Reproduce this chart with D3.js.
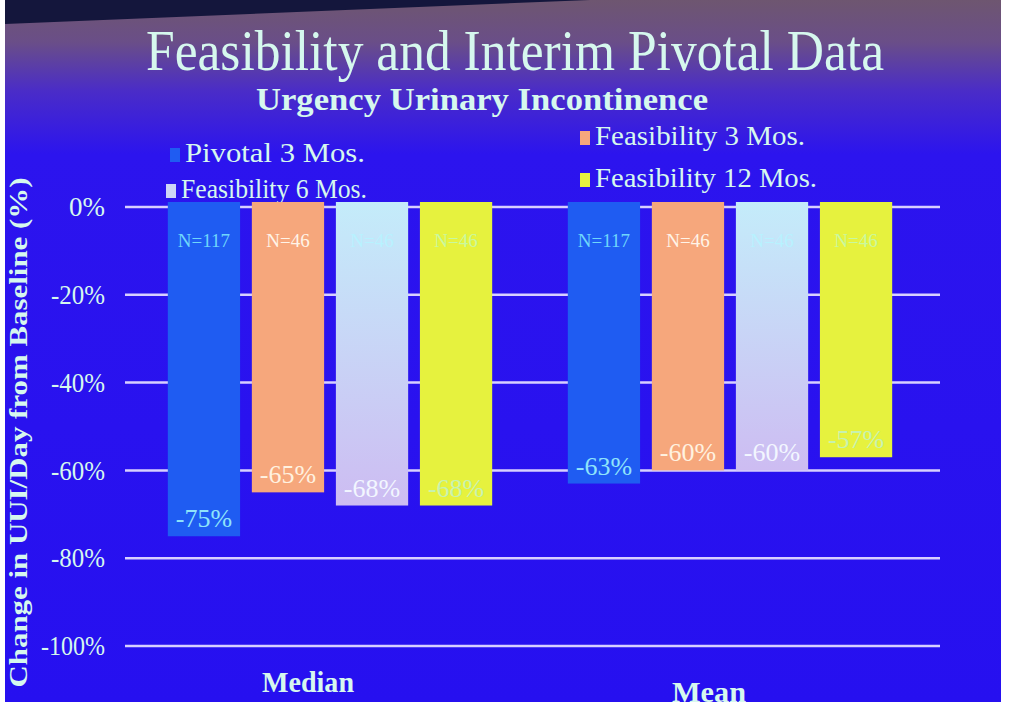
<!DOCTYPE html>
<html><head><meta charset="utf-8">
<script src="https://cdn.jsdelivr.net/npm/d3@7"></script>
<style>html,body{margin:0;padding:0;background:#fff;}svg{display:block;} text{font-family:"Liberation Serif","Times New Roman",serif;}</style>
</head><body>
<svg id="c" width="1011" height="723"></svg>
<script>
const groups = ["Median", "Mean"];
const series = ["Pivotal 3 Mos.", "Feasibility 3 Mos.", "Feasibility 6 Mos.", "Feasibility 12 Mos."];
const medianValues = [-75, -65, -68, -68];
const meanValues = [-63, -60, -60, -57];
const nLabels = ["N=117", "N=46", "N=46", "N=46"];
const yTicks = [0, -20, -40, -60, -80, -100];

const colors = ["#1f5cf2", "#f6a77c", "#cdd6f6", "#e6f23e"];
const nColors = ["#6fd6fb", "#fff4e8", "#b8f2ff", "#c8f8a0"];
const vColors = ["#8fe4fb", "#fff2e0", "#f2f6ff", "#c6f2b0"];
const txt = "#d6f8ee";
const serif = '"Liberation Serif","Times New Roman",serif';

const svg = d3.select("#c");
const defs = svg.append("defs");
const bg = defs.append("linearGradient").attr("id","bg").attr("x1",0).attr("y1",0).attr("x2",0).attr("y2",1);
bg.append("stop").attr("offset","0%").attr("stop-color","#6e5670");
bg.append("stop").attr("offset","6%").attr("stop-color","#6a4e88");
bg.append("stop").attr("offset","13%").attr("stop-color","#4a2cc8");
bg.append("stop").attr("offset","22%").attr("stop-color","#2c14ee");
bg.append("stop").attr("offset","100%").attr("stop-color","#2610f0");
const lg = defs.append("linearGradient").attr("id","lav").attr("x1",0).attr("y1",0).attr("x2",0).attr("y2",1);
lg.append("stop").attr("offset","0%").attr("stop-color","#c4ecfa");
lg.append("stop").attr("offset","100%").attr("stop-color","#cdbcf2");

svg.append("rect").attr("x",5).attr("y",0).attr("width",996).attr("height",702).attr("fill","url(#bg)");
svg.append("path").attr("d","M5,0 L590,0 L5,24 Z").attr("fill","#14163c");

function T(sel){ return sel.style("font-family", serif); }

// Title
T(svg.append("text")).attr("x",515).attr("y",70).attr("text-anchor","middle")
  .attr("font-size",58).attr("fill",txt)
  .attr("textLength",738).attr("lengthAdjust","spacingAndGlyphs")
  .text("Feasibility and Interim Pivotal Data");
T(svg.append("text")).attr("x",482).attr("y",110).attr("text-anchor","middle")
  .attr("font-weight","bold").attr("font-size",32).attr("fill",txt)
  .attr("textLength",452).attr("lengthAdjust","spacingAndGlyphs")
  .text("Urgency Urinary Incontinence");

// Legend
const legendPos = [[170,162],[580,145],[166,198],[580,187]];
const legendLen = [180, 210, 186, 222];
series.forEach((s,i)=>{
  const g = svg.append("g").attr("transform",`translate(${legendPos[i][0]},${legendPos[i][1]})`);
  g.append("rect").attr("x",0).attr("y",-14).attr("width",10).attr("height",14).attr("fill",colors[i]);
  T(g.append("text")).attr("x",15).attr("y",0).attr("font-size",28).attr("fill",txt)
    .attr("textLength",legendLen[i]).attr("lengthAdjust","spacingAndGlyphs").text(s);
});

// Scales
const y = d3.scaleLinear().domain([-100, 0]).range([646, 207]);
const x0 = d3.scaleBand().domain(groups).range([130, 930]);
const x1 = d3.scaleBand().domain(series).range([0, x0.bandwidth()]).paddingInner(0.14).paddingOuter(0.45);

// Gridlines
svg.append("g").selectAll("line").data(yTicks).join("line")
  .attr("x1",125).attr("x2",940).attr("y1",d=>y(d)).attr("y2",d=>y(d))
  .attr("stroke","#d8d0ff").attr("stroke-width",2.5);

// Y tick labels
const yAxis = d3.axisLeft(y).tickValues(yTicks).tickFormat(d=>d+"%").tickSize(0).tickPadding(10);
const ya = svg.append("g").attr("transform","translate(115,0)").call(yAxis);
ya.attr("font-family", null);
ya.select(".domain").remove();
ya.selectAll("text").style("font-family", serif).attr("font-size",27).attr("fill",txt)
  .attr("textLength", d=> d===0 ? 36 : (d===-100 ? 64 : 54)).attr("lengthAdjust","spacingAndGlyphs");

// Y title
T(svg.append("text")).attr("transform",`translate(27,${y(-50)+6}) rotate(-90)`).attr("text-anchor","middle")
  .attr("font-weight","bold").attr("font-size",26).attr("fill",txt)
  .attr("textLength",510).attr("lengthAdjust","spacingAndGlyphs")
  .text("Change in UUI/Day from Baseline (%)");

// Bars
const data = [];
groups.forEach((g,gi)=>{
  const vals = gi===0 ? medianValues : meanValues;
  series.forEach((s,si)=>data.push({g, s, si, v: vals[si]}));
});
const bars = svg.append("g").selectAll("g").data(data).join("g")
  .attr("transform",d=>`translate(${x0(d.g)+x1(d.s)},0)`);
bars.append("rect").attr("x",0).attr("y",y(0)-5).attr("width",x1.bandwidth())
  .attr("height",d=>y(d.v)-y(0)+5)
  .attr("fill",d=>d.si===2 ? "url(#lav)" : colors[d.si]);
T(bars.append("text")).attr("x",x1.bandwidth()/2).attr("y",y(0)+40).attr("text-anchor","middle")
  .attr("font-size",19).attr("fill",d=>nColors[d.si])
  .text(d=>nLabels[d.si]);
T(bars.append("text")).attr("x",x1.bandwidth()/2).attr("y",d=>y(d.v)-9).attr("text-anchor","middle")
  .attr("font-size",26).attr("fill",d=>vColors[d.si])
  .text(d=>d.v+"%");

// Category labels
T(svg.append("g").selectAll("text").data(groups).join("text"))
  .attr("x",(d,i)=>i===0?308:709).attr("y",(d,i)=>i===0?692:702).attr("text-anchor","middle")
  .attr("font-weight","bold").attr("font-size",30).attr("fill",txt)
  .attr("textLength",(d,i)=>i===0?92:74).attr("lengthAdjust","spacingAndGlyphs")
  .text(d=>d);
</script>
</body></html>
